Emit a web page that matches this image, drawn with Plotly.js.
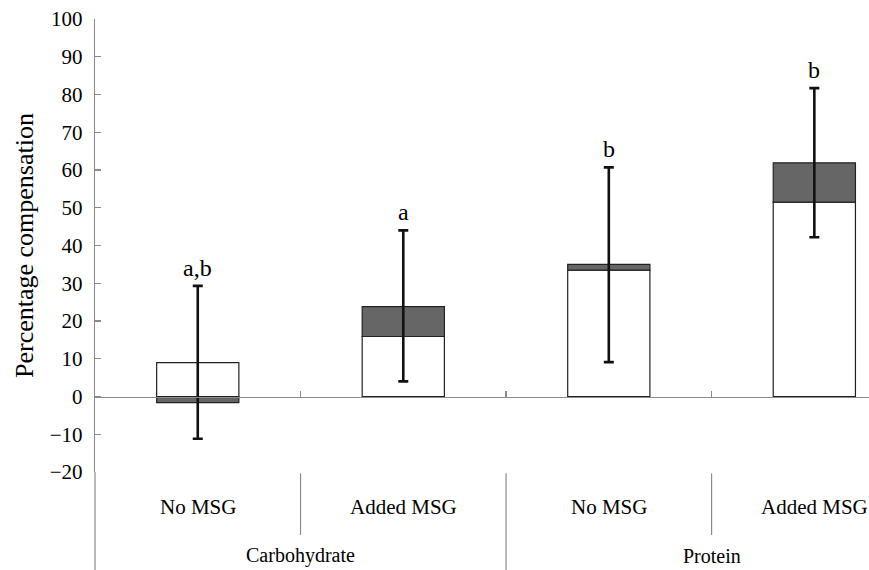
<!DOCTYPE html>
<html>
<head>
<meta charset="utf-8">
<script src="https://cdn.plot.ly/plotly-3.0.1.min.js"></script>
<style>html,body{margin:0;padding:0;background:#fff;}#chart{width:869px;height:570px;}</style>
</head>
<body>
<div id="chart"></div>
<script>
// Data
var subLabels = ["No MSG", "Added MSG", "No MSG", "Added MSG"];
var groupLabels = ["Carbohydrate", "Protein"];
var whiteValues = [9.0, 15.9, 33.5, 51.5];     // lower (open) segment
var grayValues = [-1.6, 7.9, 1.5, 10.4];      // upper (shaded) segment
var errCenter = [9.0, 23.8, 35.0, 61.9];
var errUpper = [29.3, 44.0, 60.7, 81.7];
var errLower = [-11.2, 4.0, 9.1, 42.2];
var sigLetters = ["a,b", "a", "b", "b"];

var xs = subLabels.map(function (_, i) { return i; });
var FONT = "Liberation Serif";
var AXC = "#8a8a8a";

var traces = [
  {
    type: "bar", x: xs, y: whiteValues, width: 0.4,
    marker: { color: "#ffffff", line: { color: "#222222", width: 1.2 } },
    hoverinfo: "skip", showlegend: false
  },
  {
    type: "bar", x: xs, y: grayValues, width: 0.4,
    marker: { color: "#666666", line: { color: "#222222", width: 1.2 } },
    hoverinfo: "skip", showlegend: false
  },
  {
    type: "scatter", mode: "markers", x: xs, y: errCenter,
    marker: { size: 0.1, color: "rgba(0,0,0,0)" },
    error_y: {
      type: "data", symmetric: false,
      array: errUpper.map(function (v, i) { return v - errCenter[i]; }),
      arrayminus: errLower.map(function (v, i) { return errCenter[i] - v; }),
      color: "#111111", thickness: 2.6, width: 5
    },
    hoverinfo: "skip", showlegend: false
  }
];

var annotations = sigLetters.map(function (t, i) {
  return { x: xs[i], y: errUpper[i], xref: "x", yref: "y", text: t, showarrow: false,
    yanchor: "bottom", yshift: 3, font: { family: FONT, size: 24, color: "#000" } };
});
subLabels.forEach(function (t, i) {
  annotations.push({ x: xs[i], y: -0.077, xref: "x", yref: "paper", text: t, showarrow: false,
    yanchor: "middle", font: { family: FONT, size: 21, color: "#000" } });
});
groupLabels.forEach(function (t, g) {
  annotations.push({ x: g * 2 + 0.5, y: -0.185, xref: "x", yref: "paper", text: t, showarrow: false,
    yanchor: "middle", font: { family: FONT, size: 20, color: "#000" } });
});

var shapes = [
  { type: "line", xref: "paper", yref: "paper", x0: 0, x1: 0, y0: 0, y1: -0.22, line: { color: AXC, width: 1.2 } },
  { type: "line", xref: "x", yref: "paper", x0: 0.5, x1: 0.5, y0: -0.003, y1: -0.139, line: { color: AXC, width: 1.2 } },
  { type: "line", xref: "x", yref: "paper", x0: 2.5, x1: 2.5, y0: -0.003, y1: -0.139, line: { color: AXC, width: 1.2 } },
  { type: "line", xref: "x", yref: "paper", x0: 1.5, x1: 1.5, y0: -0.003, y1: -0.22, line: { color: AXC, width: 1.2 } }
];

var layout = {
  width: 869, height: 570,
  margin: { l: 95, r: 0, t: 19, b: 98, pad: 0 },
  paper_bgcolor: "#ffffff", plot_bgcolor: "#ffffff",
  barmode: "relative",
  showlegend: false,
  font: { family: FONT, color: "#000" },
  xaxis: {
    range: [-0.5, 3.266], anchor: "free", position: 20 / 120,
    showline: true, linecolor: AXC, linewidth: 1.2,
    tickvals: [0.5, 1.5, 2.5], ticks: "inside", ticklen: 6, tickcolor: AXC, tickwidth: 1.2,
    showticklabels: false, showgrid: false, zeroline: false, fixedrange: true
  },
  yaxis: {
    range: [-20, 100], tick0: 0, dtick: 10,
    showline: true, linecolor: AXC, linewidth: 1.2,
    ticks: "inside", ticklen: 6, tickcolor: AXC, tickwidth: 1.2,
    tickfont: { family: FONT, size: 21, color: "#000" },
    ticklabelstandoff: 7,
    showgrid: false, zeroline: false,
    title: { text: "Percentage compensation", font: { family: FONT, size: 26, color: "#000" }, standoff: 8 },
    automargin: false, fixedrange: true
  },
  annotations: annotations,
  shapes: shapes
};

Plotly.newPlot("chart", traces, layout, { staticPlot: true, displayModeBar: false });
</script>
</body>
</html>
